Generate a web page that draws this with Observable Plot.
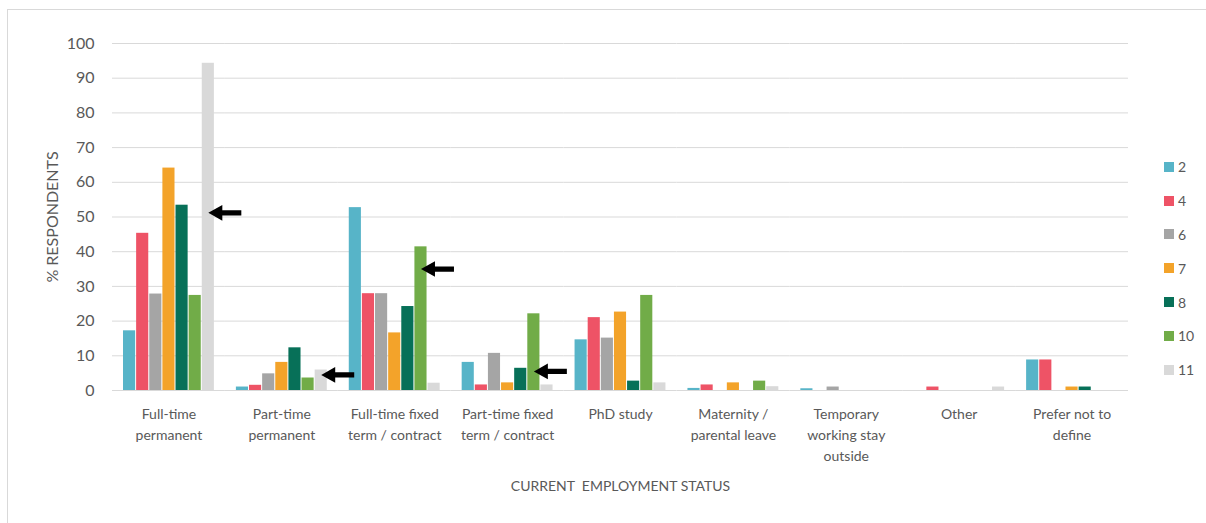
<!DOCTYPE html>
<html>
<head>
<meta charset="utf-8">
<script src="https://cdn.jsdelivr.net/npm/d3@7"></script>
<script src="https://cdn.jsdelivr.net/npm/@observablehq/plot@0.6"></script>
<style>
  html, body { margin: 0; padding: 0; background: #fff; }
  #wrap { position: relative; width: 1206px; height: 523px; overflow: hidden; font-family: Lato, "Open Sans", sans-serif; }
  #border { position: absolute; left: 7px; top: 9px; width: 1400px; height: 700px; border-top: 1px solid #d9d9d9; border-left: 1px solid #d9d9d9; pointer-events: none; }
  #chart { position: absolute; left: 0; top: 0; }
  #legend { position: absolute; left: 1164px; top: 150px; }
  .item { display: flex; align-items: center; height: 33.8px; font-size: 14px; color: #595959; }
  .sw { width: 10px; height: 10px; margin-right: 4px; }
</style>
</head>
<body>
<div id="wrap">
  <div id="border"></div>
  <div id="chart"></div>
  <div id="legend"></div>
</div>
<script>
// Categories (x facets) and their displayed tick labels
const categories = [
  "Full-time permanent",
  "Part-time permanent",
  "Full-time fixed term / contract",
  "Part-time fixed term / contract",
  "PhD study",
  "Maternity / parental leave",
  "Temporary working stay outside",
  "Other",
  "Prefer not to define"
];
const tickLabels = [
  "Full-time\npermanent",
  "Part-time\npermanent",
  "Full-time fixed\nterm / contract",
  "Part-time fixed\nterm / contract",
  "PhD study",
  "Maternity /\nparental leave",
  "Temporary\nworking stay\noutside",
  "Other",
  "Prefer not to\ndefine"
];

// Series (legend entries)
const series = ["2", "4", "6", "7", "8", "10", "11"];
const colors = ["#57b4c8", "#ee5366", "#a5a5a5", "#f3a32a", "#077058", "#71ac48", "#d9d9d9"];

// Values (% respondents) per series, in category order
const s2  = [17.2, 1.0, 52.7,  8.1, 14.6, 0.6, 0.5, 0.0, 8.8];
const s4  = [45.3, 1.5, 27.9,  1.6, 21.0, 1.6, 0.0, 1.0, 8.8];
const s6  = [27.8, 4.8, 27.9, 10.7, 15.1, 0.0, 1.0, 0.0, 0.0];
const s7  = [64.1, 8.1, 16.6,  2.2, 22.6, 2.2, 0.0, 0.0, 1.0];
const s8  = [53.4, 12.3, 24.2, 6.4,  2.7, 0.0, 0.0, 0.0, 1.0];
const s10 = [27.4, 3.6, 41.4, 22.1, 27.4, 2.7, 0.0, 0.0, 0.0];
const s11 = [94.3, 5.9,  2.1,  1.6,  2.2, 1.1, 0.0, 1.0, 0.0];
const seriesValues = [s2, s4, s6, s7, s8, s10, s11];

// Y axis ticks
const yTicks = [0, 10, 20, 30, 40, 50, 60, 70, 80, 90, 100];

// Annotation arrows: category, bar they sit on, and value level
const arrowCategories = ["Full-time permanent", "Part-time permanent", "Full-time fixed term / contract", "Part-time fixed term / contract"];
const arrowSeries = ["11", "11", "10", "10"];
const arrowValues = [51.2, 4.5, 35.0, 5.5];

const data = categories.flatMap((c, i) =>
  series.map((s, j) => ({category: c, series: s, value: seriesValues[j][i]}))
);
const arrows = arrowCategories.map((c, i) => ({category: c, series: arrowSeries[i], value: arrowValues[i]}));

const arrowSymbol = {
  draw(ctx) {
    ctx.moveTo(-17, 0);
    ctx.lineTo(-3, -7.8);
    ctx.lineTo(-3, -2.6);
    ctx.lineTo(16, -2.6);
    ctx.lineTo(16, 2.6);
    ctx.lineTo(-3, 2.6);
    ctx.lineTo(-3, 7.8);
    ctx.closePath();
  }
};

const chart = Plot.plot({
  width: 1206,
  height: 523,
  marginLeft: 112,
  marginRight: 78,
  marginTop: 43,
  marginBottom: 133,
  style: {fontFamily: "Lato, 'Open Sans', sans-serif", fontSize: "14px", color: "#595959", background: "transparent", overflow: "visible"},
  fx: {domain: categories, paddingInner: 0, paddingOuter: 0, round: false},
  x: {domain: series, axis: null, paddingInner: 0, paddingOuter: 0.8, round: false},
  y: {domain: [0, 100]},
  color: {domain: series, range: colors},
  marks: [
    Plot.gridY(yTicks, {stroke: "#d9d9d9", strokeOpacity: 1, strokeWidth: 1}),
    Plot.axisY(yTicks, {
      tickSize: 0, tickPadding: 18, fontSize: 16, fill: "#595959",
      label: "% RESPONDENTS", labelAnchor: "center", labelArrow: "none", labelOffset: 66
    }),
    Plot.axisFx({
      anchor: "bottom", tickSize: 0, tickPadding: 14, lineHeight: 1.5, fill: "#595959",
      tickFormat: (d) => tickLabels[categories.indexOf(d)],
      label: null
    }),
    Plot.axisFx([], {
      anchor: "bottom", tickSize: 0, fill: "#595959", dx: 9,
      label: "CURRENT  EMPLOYMENT STATUS", labelAnchor: "center", labelArrow: "none", labelOffset: 100
    }),
    Plot.barY(data, {fx: "category", x: "series", y: "value", fill: "series", insetLeft: 0.5, insetRight: 0.5}),
    Plot.dot(arrows, {fx: "category", x: "series", y: "value", symbol: arrowSymbol, fill: "black", stroke: "none", r: 8, dx: 17})
  ]
});
document.getElementById("chart").appendChild(chart);

const legend = document.getElementById("legend");
series.forEach((s, i) => {
  const item = document.createElement("div");
  item.className = "item";
  const sw = document.createElement("div");
  sw.className = "sw";
  sw.style.background = colors[i];
  const t = document.createElement("span");
  t.textContent = s;
  item.appendChild(sw);
  item.appendChild(t);
  legend.appendChild(item);
});
</script>
</body>
</html>
